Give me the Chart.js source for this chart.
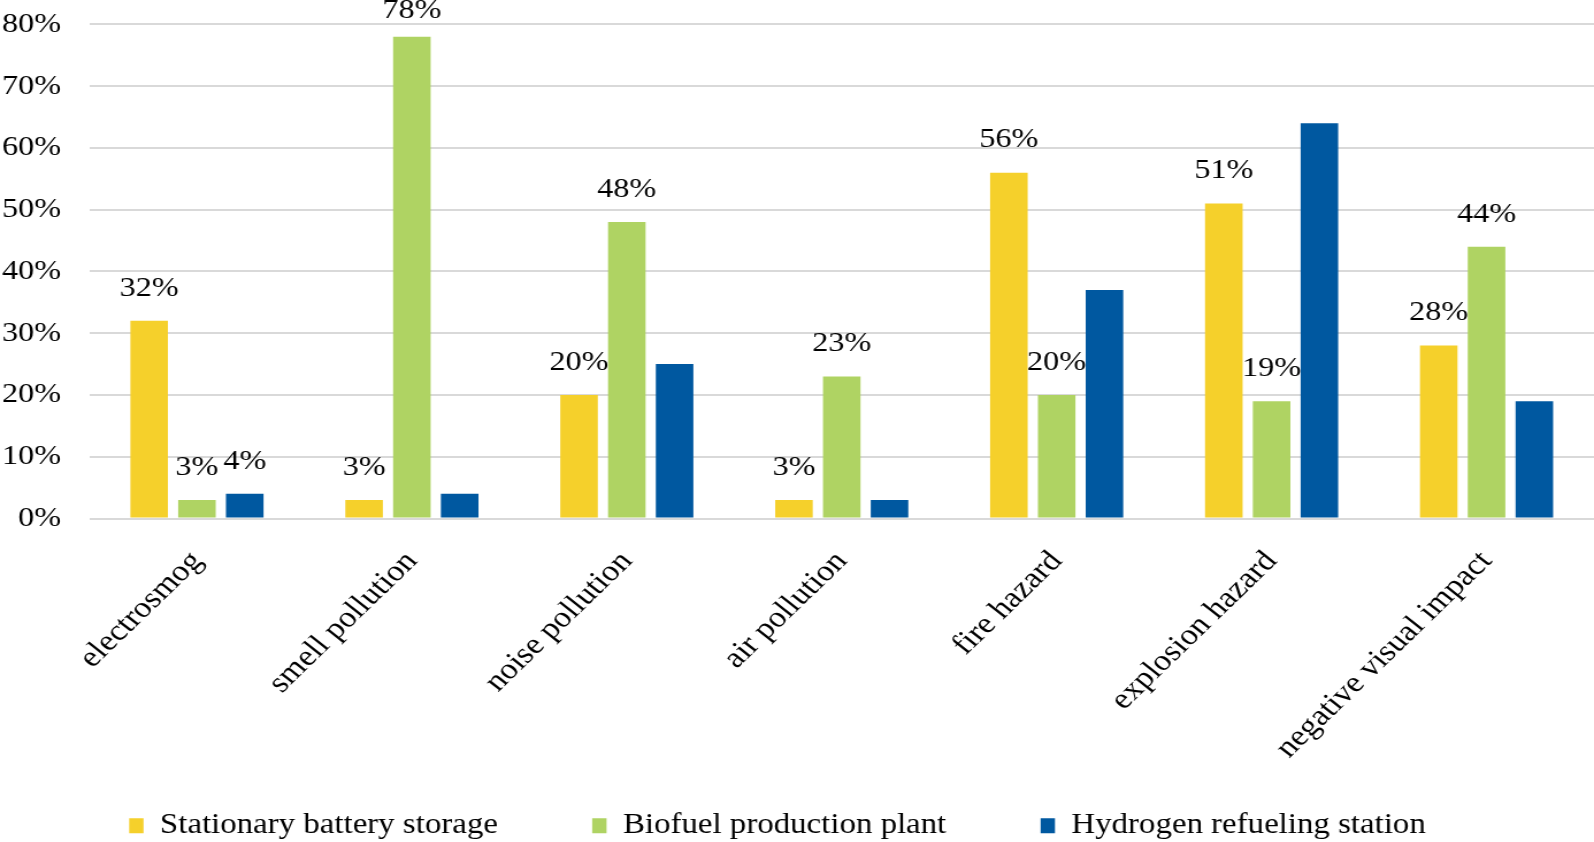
<!DOCTYPE html>
<html>
<head>
<meta charset="utf-8">
<script src="https://cdn.jsdelivr.net/npm/chart.js@4.4.1/dist/chart.umd.min.js"></script>
<style>
  html, body { margin: 0; padding: 0; background: #ffffff; overflow: hidden; }
  #wrap { width: 1386px; height: 842px; transform-origin: 0 0; transform: scaleX(1.15007); }
  .pre { font-family: 'Liberation Serif'; position: absolute; left: -9999px; }
</style>
</head>
<body>
<span class="pre">Liberation Serif 80%</span>
<div id="wrap"><canvas id="c" width="1386" height="842"></canvas></div>
<script>
const categories = ["electrosmog", "smell pollution", "noise pollution", "air pollution", "fire hazard", "explosion hazard", "negative visual impact"];
const seriesNames = ["Stationary battery storage", "Biofuel production plant", "Hydrogen refueling station"];
const batteryValues = [32, 3, 20, 3, 56, 51, 28];
const biofuelValues = [3, 78, 48, 23, 20, 19, 44];
const hydrogenValues = [4, 4, 25, 3, 37, 64, 19];
const batteryLabelShown = [true, true, true, true, true, true, true];
const biofuelLabelShown = [true, true, true, true, true, true, true];
const hydrogenLabelShown = [true, false, false, false, false, false, false];
const yTicks = [0, 10, 20, 30, 40, 50, 60, 70, 80];

const FONT = "'Liberation Serif', 'Times New Roman', serif";

const dataLabels = {
  id: 'dataLabels',
  afterDatasetsDraw(chart) {
    const ctx = chart.ctx;
    ctx.save();
    ctx.font = "28px " + FONT;
    ctx.fillStyle = '#000';
    ctx.textAlign = 'center';
    ctx.textBaseline = 'middle';
    chart.data.datasets.forEach((ds, i) => {
      const meta = chart.getDatasetMeta(i);
      meta.data.forEach((bar, j) => {
        if (!ds.labelMask[j]) return;
        const y = Math.max(bar.y - 32.5, 11);
        ctx.fillText(ds.data[j] + '%', bar.x, y);
      });
    });
    ctx.restore();
  }
};

const layoutTweak = {
  id: 'layoutTweak',
  afterLayout(chart) {
    const lg = chart.legend;
    if (lg) {
      const dx = -17, dy = 8;
      lg.left += dx; lg.right += dx;
      lg.top += dy; lg.bottom += dy;
    }
    const xs = chart.scales.x;
    if (xs) {
      xs.bottom = chart.height;
      xs.height = xs.bottom - xs.top;
    }
  }
};

function build() {
  new Chart(document.getElementById('c'), {
    type: 'bar',
    data: {
      labels: categories,
      datasets: [
        { label: seriesNames[0], data: batteryValues, labelMask: batteryLabelShown, backgroundColor: '#F5D02B' },
        { label: seriesNames[1], data: biofuelValues, labelMask: biofuelLabelShown, backgroundColor: '#AFD363' },
        { label: seriesNames[2], data: hydrogenValues, labelMask: hydrogenLabelShown, backgroundColor: '#0058A0' }
      ]
    },
    options: {
      responsive: false,
      animation: false,
      devicePixelRatio: 1,
      categoryPercentage: 0.667,
      barPercentage: 0.786,
      layout: { padding: { top: 24.4, left: 0, right: 0, bottom: 0 } },
      plugins: {
        legend: {
          position: 'bottom',
          align: 'center',
          labels: {
            boxWidth: 12.5,
            boxHeight: 15,
            padding: 82,
            color: '#000',
            font: { family: FONT, size: 28.6 }
          }
        },
        tooltip: { enabled: false }
      },
      scales: {
        x: {
          grid: { display: false, drawTicks: false },
          border: { display: false },
          ticks: {
            autoSkip: false,
            minRotation: 48,
            maxRotation: 48,
            padding: 26,
            color: '#000',
            font: { family: FONT, size: 29.5 }
          },
          afterFit(scale) {
            scale.height = 202.9;
            scale.paddingLeft = 0;
            scale.paddingRight = 0;
          }
        },
        y: {
          min: 0,
          max: 80,
          afterBuildTicks(scale) {
            scale.ticks = yTicks.map(v => ({ value: v }));
          },
          grid: { color: '#D9D9D9', lineWidth: 2, drawTicks: false },
          border: { display: false },
          ticks: {
            padding: 24.8,
            color: '#000',
            font: { family: FONT, size: 28 },
            callback: v => v + '%'
          },
          afterFit(scale) {
            scale.width = 77.8;
            scale.paddingTop = 0;
            scale.paddingBottom = 0;
          }
        }
      }
    },
    plugins: [dataLabels, layoutTweak]
  });
}

const ready = (document.fonts && document.fonts.load)
  ? document.fonts.load("28px 'Liberation Serif'").catch(() => null)
  : Promise.resolve();
ready.then(build, build);
</script>
</body>
</html>
